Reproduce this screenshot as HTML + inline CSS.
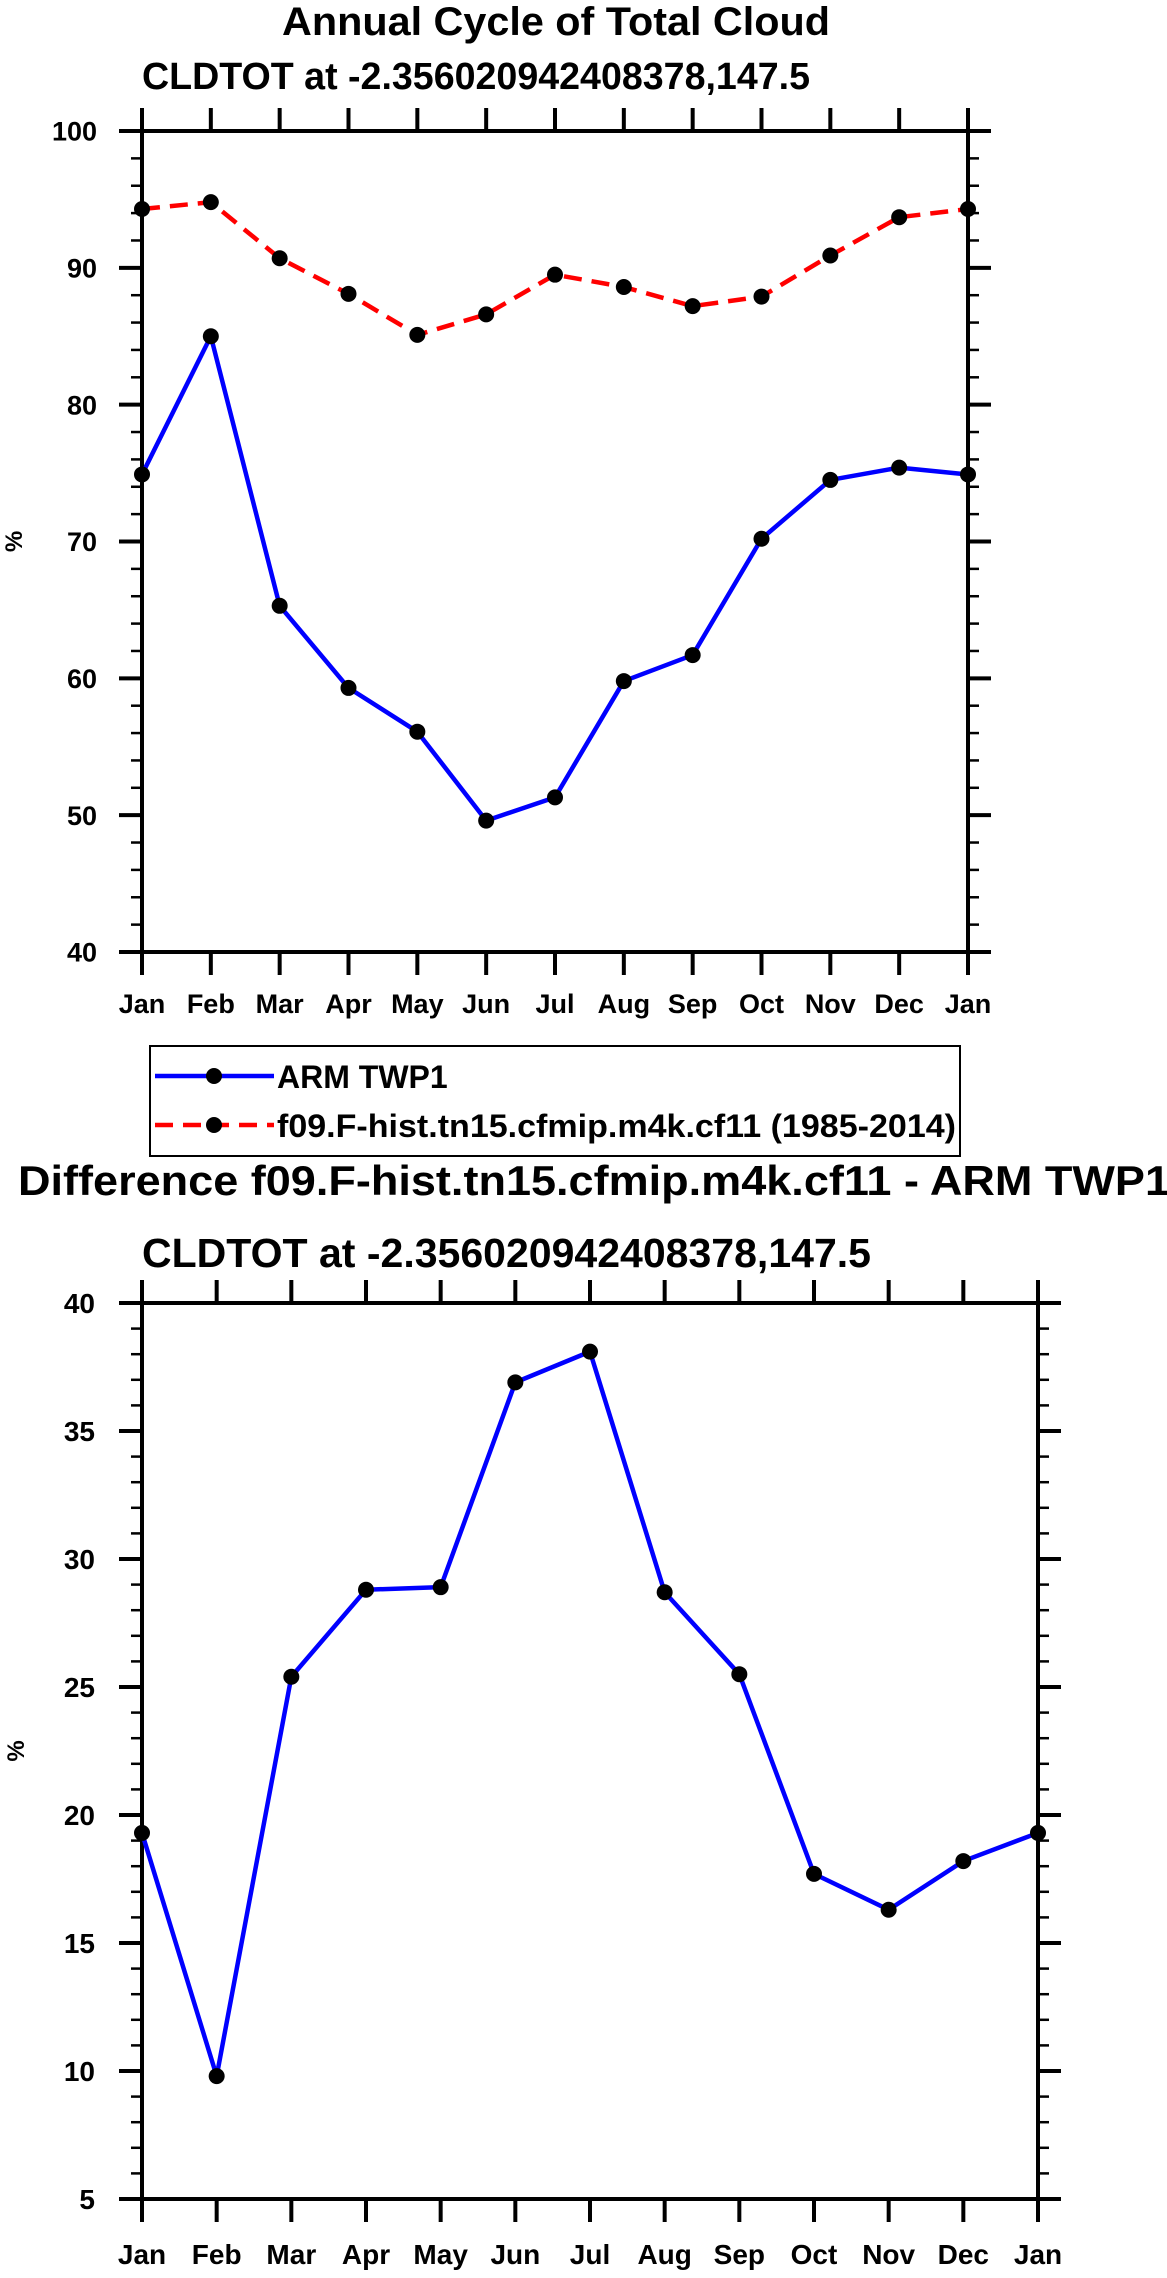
<!DOCTYPE html>
<html><head><meta charset="utf-8"><style>
html,body{margin:0;padding:0;background:#fff;}
svg{display:block;font-family:"Liberation Sans",Arial,sans-serif;font-weight:bold;}
</style></head><body>
<svg id="chart" width="1167" height="2278" viewBox="0 0 1167 2278" xmlns="http://www.w3.org/2000/svg">
<text x="556" y="35" text-anchor="middle" font-size="40" textLength="548" lengthAdjust="spacingAndGlyphs">Annual Cycle of Total Cloud</text>
<text x="142" y="89" font-size="38" textLength="668" lengthAdjust="spacingAndGlyphs">CLDTOT at -2.356020942408378,147.5</text>
<text x="18" y="1195" font-size="42" textLength="1152" lengthAdjust="spacingAndGlyphs">Difference f09.F-hist.tn15.cfmip.m4k.cf11 - ARM TWP1</text>
<text x="142" y="1267" font-size="41" textLength="729" lengthAdjust="spacingAndGlyphs">CLDTOT at -2.356020942408378,147.5</text>
<g>
<rect x="150" y="1046" width="810" height="110" fill="none" stroke="#000" stroke-width="2"/>
<g>
<line x1="155" y1="1076" x2="274" y2="1076" stroke="#00f" stroke-width="4.5"/>
<circle cx="214" cy="1076" r="8" fill="#000"/>
<text x="277" y="1088" font-size="32">ARM TWP1</text>
</g>
<g>
<line x1="155" y1="1125" x2="274" y2="1125" stroke="#f00" stroke-width="4.5" stroke-dasharray="18,10"/>
<circle cx="214" cy="1125" r="8" fill="#000"/>
<text x="277" y="1137" font-size="32" textLength="679" lengthAdjust="spacingAndGlyphs">f09.F-hist.tn15.cfmip.m4k.cf11 (1985-2014)</text>
</g>
</g>
</svg>
<script>
const months = ["Jan","Feb","Mar","Apr","May","Jun","Jul","Aug","Sep","Oct","Nov","Dec","Jan"];
const armValues = [74.9, 85.0, 65.3, 59.3, 56.1, 49.6, 51.3, 59.8, 61.7, 70.2, 74.5, 75.4, 74.9];
const modelValues = [94.3, 94.8, 90.7, 88.1, 85.1, 86.6, 89.5, 88.6, 87.2, 87.9, 90.9, 93.7, 94.3];
const diffValues = [19.3, 9.8, 25.4, 28.8, 28.9, 36.9, 38.1, 28.7, 25.5, 17.7, 16.3, 18.2, 19.3];
const topTicks = [40, 50, 60, 70, 80, 90, 100];
const bottomTicks = [5, 10, 15, 20, 25, 30, 35, 40];

const NS = "http://www.w3.org/2000/svg";
const svg = document.getElementById("chart");
function mk(tag, attrs, parent) {
  const e = document.createElementNS(NS, tag);
  for (const k in attrs) e.setAttribute(k, attrs[k]);
  (parent || svg).appendChild(e);
  return e;
}

function drawPanel(cfg) {
  const g = mk("g", {});
  
  
  const xs = i => cfg.x0 + (cfg.x1 - cfg.x0) * i / (months.length - 1);
  const ys = v => cfg.y1 - (cfg.y1 - cfg.y0) * (v - cfg.ymin) / (cfg.ymax - cfg.ymin);
  for (let v = cfg.ymin; v <= cfg.ymax + 1e-9; v += cfg.minor) {
    const y = ys(v);
    const r = (v - cfg.ymin) % cfg.major;
    const isMajor = Math.abs(r) < 1e-6 || Math.abs(r - cfg.major) < 1e-6;
    const len = isMajor ? 23 : 11;
    const w = isMajor ? 4 : 2.5;
    const t1 = mk("line", {x1: cfg.x0 - len, y1: y, x2: cfg.x0, y2: y, stroke: "#000", "stroke-width": w}, g);
    
    
    const t2 = mk("line", {x1: cfg.x1, y1: y, x2: cfg.x1 + len, y2: y, stroke: "#000", "stroke-width": w}, g);
    
    
  }
  cfg.ticks.forEach(v => {
    const t = mk("text", {x: cfg.labelRight, y: ys(v) + cfg.tickFont * 0.36, "text-anchor": "end", "font-size": cfg.tickFont}, g);
    t.textContent = v;
    
    
  });
  months.forEach((m, i) => {
    const x = xs(i);
    const a = mk("line", {x1: x, y1: cfg.y1, x2: x, y2: cfg.y1 + 23, stroke: "#000", "stroke-width": 4}, g);
    
    
    const b = mk("line", {x1: x, y1: cfg.y0 - 23, x2: x, y2: cfg.y0, stroke: "#000", "stroke-width": 4}, g);
    
    
    const t = mk("text", {x: x, y: cfg.labelY, "text-anchor": "middle", "font-size": cfg.tickFont}, g);
    t.textContent = m;
    
    
  });
  const frame = mk("rect", {x: cfg.x0, y: cfg.y0, width: cfg.x1 - cfg.x0, height: cfg.y1 - cfg.y0, fill: "none", stroke: "#000", "stroke-width": 4}, g);
  
  
  const yl = mk("text", {x: 0, y: 0, "text-anchor": "middle", "font-size": 24, transform: `translate(${cfg.ylabX},${(cfg.y0 + cfg.y1) / 2}) rotate(-90)`}, g);
  yl.textContent = "%";
  
  
  cfg.series.forEach(s => {
    const pts = s.values.map((v, i) => xs(i) + "," + ys(v)).join(" ");
    const pl = mk("polyline", {points: pts, fill: "none", stroke: s.color, "stroke-width": 4.5, "stroke-dasharray": s.dash || "none", "stroke-linejoin": "round"}, g);
    
    
    s.values.forEach((v, i) => {
      const c = mk("circle", {cx: xs(i), cy: ys(v), r: 8, fill: "#000"}, g);
      
      
    });
  });
}

drawPanel({name: "annual-cycle-panel", x0: 142, x1: 968, y0: 131, y1: 952, ymin: 40, ymax: 100, major: 10, minor: 2,
  ticks: topTicks, labelRight: 97, labelY: 1013, tickFont: 27, ylabX: 22,
  series: [{name: "model", values: modelValues, color: "#f00", dash: "18,10"}, {name: "arm-twp1", values: armValues, color: "#00f"}]});
drawPanel({name: "difference-panel", x0: 142, x1: 1038, y0: 1303, y1: 2199, ymin: 5, ymax: 40, major: 5, minor: 1,
  ticks: bottomTicks, labelRight: 95, labelY: 2264, tickFont: 28, ylabX: 24,
  series: [{name: "difference", values: diffValues, color: "#00f"}]});
</script>
</body></html>
